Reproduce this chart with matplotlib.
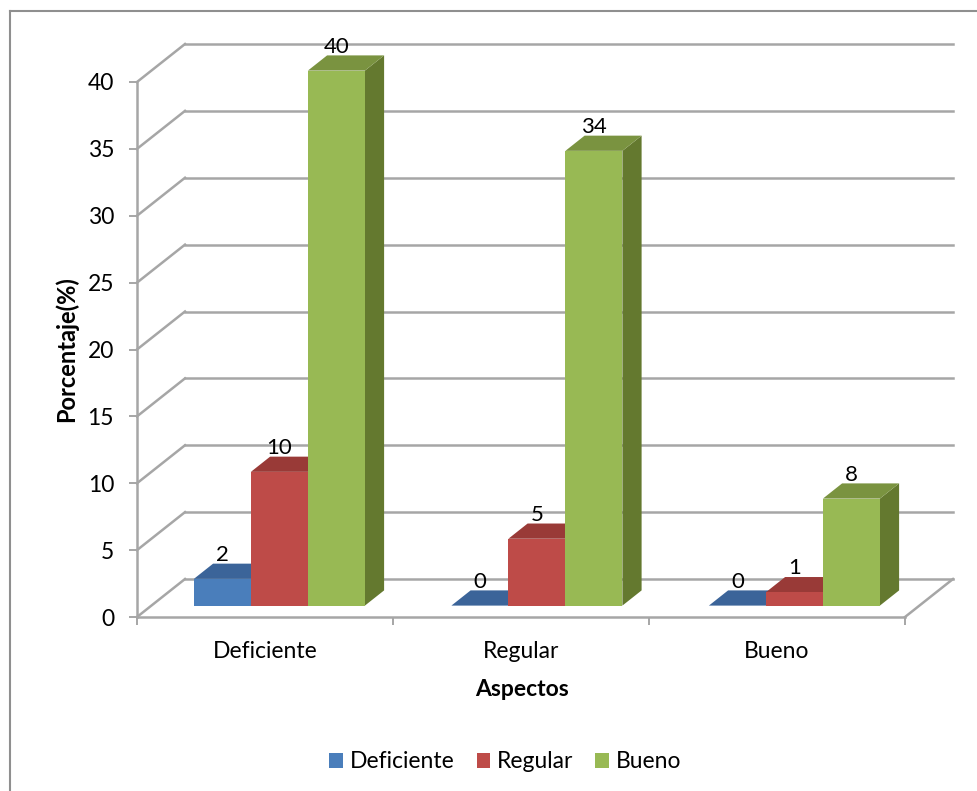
import matplotlib
matplotlib.use("Agg")
import matplotlib.pyplot as plt
from matplotlib.lines import Line2D
from matplotlib.patches import Patch, Polygon

plt.rcParams['font.family'] = ['Lato', 'DejaVu Sans']

categories = ["Deficiente", "Regular", "Bueno"]
series_names = ["Deficiente", "Regular", "Bueno"]
deficiente = [2, 0, 0]
regular = [10, 5, 1]
bueno = [40, 34, 8]
y_ticks = [0, 5, 10, 15, 20, 25, 30, 35, 40]

front_colors = ["#4A7EBB", "#BE4B48", "#98B954"]
top_colors = ["#3B6499", "#993A37", "#7A9340"]
side_colors = ["#35587F", "#7F2F2D", "#64792F"]
grid_color = "#A6A6A6"

W, H = 978, 791
# depth of the 3d box, in data units
depth_x = 48 / 256
depth_y = 38 / 13.375
bar_w = 57 / 256
group_step = 257.5 / 256
z_front, z_back = 0.30, 0.70
grid_lw = 1.8

fig = plt.figure(figsize=(W / 100, H / 100), dpi=100, facecolor="white")
ax = fig.add_axes([137 / W, (H - 617) / H, (905 - 137) / W, (617 - 82) / H])
ax.set_xlim(0, 3)
ax.set_ylim(0, 40)
ax.patch.set_visible(False)


def proj(x, y, z):
    return (x + z * depth_x, y + z * depth_y)


# back wall gridlines and the slanted bits on the left wall
for v in y_ticks:
    ax.plot([0, depth_x], [v, v + depth_y], color=grid_color, lw=grid_lw, clip_on=False, zorder=1)
    ax.plot([depth_x, 3 + depth_x], [v + depth_y, v + depth_y], color=grid_color, lw=grid_lw,
            clip_on=False, zorder=1)
# floor edge on the right
ax.plot([3, 3 + depth_x], [0, depth_y], color=grid_color, lw=grid_lw, clip_on=False, zorder=1)


def draw_bar(x0, val, k):
    x1 = x0 + bar_w
    a = proj(x0, 0, z_front)
    b = proj(x1, 0, z_front)
    c = proj(x1, val, z_front)
    d = proj(x0, val, z_front)
    e = proj(x1, val, z_back)
    f = proj(x0, val, z_back)
    g = proj(x1, 0, z_back)
    ax.add_patch(Polygon([b, g, e, c], facecolor=side_colors[k], edgecolor="none", clip_on=False, zorder=3))
    ax.add_patch(Polygon([d, c, e, f], facecolor=top_colors[k], edgecolor="none", clip_on=False, zorder=3))
    ax.add_patch(Polygon([a, b, c, d], facecolor=front_colors[k], edgecolor="none", clip_on=False, zorder=3))
    ax.annotate(str(val), xy=((a[0] + b[0]) / 2, d[1]), xytext=(0, 24 * 0.72), textcoords="offset points",
                ha="center", va="center", fontsize=16, color="black", zorder=5, annotation_clip=False)


all_series = [deficiente, regular, bueno]
for i in range(len(categories)):
    left = 0.5 + i * group_step - 1.5 * bar_w
    for k, vals in enumerate(all_series):
        draw_bar(left + k * bar_w, vals[i], k)

for name in ["top", "right"]:
    ax.spines[name].set_visible(False)
for name in ["left", "bottom"]:
    ax.spines[name].set_color(grid_color)
    ax.spines[name].set_linewidth(grid_lw)
    ax.spines[name].set_zorder(2)

ax.set_yticks(y_ticks)
ax.set_xticks([0, 1, 2, 3])
ax.set_xticklabels([])
ax.set_xticks([0.5, 1.5, 2.5], minor=True)
ax.set_xticklabels(categories, minor=True)
ax.tick_params(axis="x", which="major", length=5.5, width=1.4, color=grid_color)
ax.tick_params(axis="x", which="minor", length=0, pad=17, labelsize=16.5)
ax.tick_params(axis="y", length=5.5, width=1.4, color=grid_color, pad=11, labelsize=16.5)

fig.text(522 / W, 1 - 689 / H, "Aspectos", ha="center", va="center", fontsize=16.5, fontweight="bold")
fig.text(66 / W, 1 - 349 / H, "Porcentaje(%)", ha="center", va="center", rotation=90, fontsize=17, fontweight="bold")

handles = [Patch(facecolor=c, edgecolor="none") for c in front_colors]
fig.legend(handles, series_names, loc="center", bbox_to_anchor=(505.5 / W, 1 - 762 / H), ncol=3,
           frameon=False, fontsize=16.5, handlelength=0.6, handleheight=0.6, handletextpad=0.3,
           columnspacing=0.95, borderpad=0)

# outer frame: only the top and left edges are inside the canvas
fig.add_artist(Line2D([10 / W, 1], [1 - 11 / H, 1 - 11 / H], color="#8F8F8F", lw=1.5))
fig.add_artist(Line2D([10 / W, 10 / W], [1 - 11 / H, 0], color="#8F8F8F", lw=1.5))

fig.savefig("out.png", dpi=100)
